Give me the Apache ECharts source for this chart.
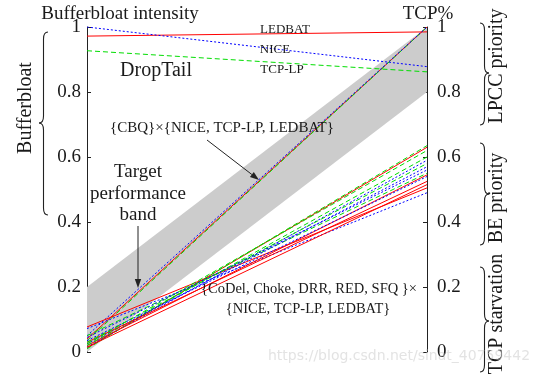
<!DOCTYPE html>
<html><head><meta charset="utf-8">
<script src="https://cdn.jsdelivr.net/npm/echarts@6/dist/echarts.min.js"></script>
<style>html,body{margin:0;padding:0;background:#fff}#c{width:537px;height:375px}</style>
</head><body><div id="c"></div>
<script>
const sides = ['left', 'right'];
const aqms = ['DropTail', 'CBQ', 'CoDel', 'Choke', 'DRR', 'RED', 'SFQ'];
const ledbatLeft  = [0.972, 0.040, 0.012, 0.077, 0.020, 0.030, 0.015];
const ledbatRight = [0.985, 1.000, 0.630, 0.505, 0.545, 0.525, 0.515];
const niceLeft    = [1.000, 0.050, 0.015, 0.072, 0.025, 0.035, 0.045];
const niceRight   = [0.878, 1.000, 0.590, 0.490, 0.570, 0.540, 0.560];
const tcplpLeft   = [0.927, 0.035, 0.010, 0.050, 0.020, 0.030, 0.025];
const tcplpRight  = [0.862, 1.000, 0.635, 0.550, 0.600, 0.580, 0.620];
const bandLow   = [0.0, 0.8];
const bandWidth = [0.2, 0.2];

const serif = 'Liberation Serif';
const series = [
  { type: 'line', data: bandLow, stack: 'band', symbol: 'none', lineStyle: { opacity: 0 }, silent: true, z: 1 },
  { type: 'line', data: bandWidth, stack: 'band', symbol: 'none', lineStyle: { opacity: 0 },
    areaStyle: { color: '#cccccc', opacity: 1 }, silent: true, z: 1 }
];
const protos = [
  { L: ledbatLeft, R: ledbatRight, color: '#ff0000', type: 'solid' },
  { L: tcplpLeft, R: tcplpRight, color: '#00dd00', type: [5, 3] },
  { L: niceLeft, R: niceRight, color: '#0000ff', type: [2, 2] }
];
aqms.forEach((a, i) => {
  protos.forEach(p => {
    series.push({ type: 'line', name: a, data: [p.L[i], p.R[i]], symbol: 'none', silent: true, z: 3,
      lineStyle: { color: p.color, width: 1, type: p.type } });
  });
});

function txt(x, y, s, size, rot) {
  const o = { type: 'text', x: x, y: y, z: 100,
    style: { text: s, font: size + 'px "' + serif + '"', fill: '#1a1a1a', align: 'center', verticalAlign: 'middle' } };
  if (rot !== undefined) o.rotation = rot;
  return o;
}
const bs = { stroke: '#222', lineWidth: 1.1, fill: null };
function q(x1, y1, cx, cy, x2, y2) {
  return { type: 'bezierCurve', z: 100, shape: { x1: x1, y1: y1, cpx1: cx, cpy1: cy, x2: x2, y2: y2 }, style: bs };
}
function ln(x1, y1, x2, y2) {
  return { type: 'line', z: 100, shape: { x1: x1, y1: y1, x2: x2, y2: y2 }, style: bs };
}
function brace(x, y0, y1, m, w, dir) {
  const xm = x + dir * w / 2, c = x + dir * w;
  return [
    q(x, y0, xm, y0, xm, y0 + 7),
    ln(xm, y0 + 7, xm, m - 7),
    q(xm, m - 7, xm, m, c, m),
    q(c, m, xm, m, xm, m + 7),
    ln(xm, m + 7, xm, y1 - 7),
    q(xm, y1 - 7, xm, y1, x, y1)
  ];
}
function arrow(x0, y0, x1, y1) {
  const ang = Math.atan2(y1 - y0, x1 - x0), L = 9, W = 3.2;
  const bx = x1 - L * Math.cos(ang), by = y1 - L * Math.sin(ang);
  const px = -Math.sin(ang) * W, py = Math.cos(ang) * W;
  return [
    { type: 'line', z: 100, shape: { x1: x0, y1: y0, x2: bx, y2: by }, style: { stroke: '#222', lineWidth: 1 } },
    { type: 'polygon', z: 100, shape: { points: [[x1, y1], [bx + px, by + py], [bx - px, by - py]] }, style: { fill: '#222' } }
  ];
}

const graphic = [
  txt(120, 14, 'Bufferbloat intensity', 19),
  txt(428, 14, 'TCP%', 19),
  txt(285, 30, 'LEDBAT', 13),
  txt(275, 50, 'NICE', 13),
  txt(282, 70, 'TCP-LP', 13),
  txt(156, 71, 'DropTail', 20),
  txt(222, 128, '{CBQ}×{NICE, TCP-LP, LEDBAT}', 15),
  txt(138, 172, 'Target', 19),
  txt(138, 194, 'performance', 19),
  txt(138, 215, 'band', 19),
  txt(309, 289, '{CoDel, Choke, DRR, RED, SFQ }×', 14.5),
  txt(308, 309, '{NICE, TCP-LP, LEDBAT}', 14.5),
  txt(26, 108, 'Bufferbloat', 20, Math.PI / 2),
  txt(497, 66, 'LPCC priority', 20, Math.PI / 2),
  txt(497, 198, 'BE priority', 20, Math.PI / 2),
  txt(497, 314, 'TCP starvation', 20, Math.PI / 2),
  ...brace(48, 32, 215, 123, 9, -1),
  ...brace(480, 23, 125, 73, 9, 1),
  ...brace(480, 143, 245, 194, 9, 1),
  ...brace(480, 267, 372, 321, 9, 1),
  ...arrow(138, 226, 138, 288),
  ...arrow(207, 140, 259, 180),
  { type: 'text', x: 399, y: 356, z: 200, style: { text: 'https://blog.csdn.net/sinat_40759442', font: '14px "DejaVu Sans"',
    fill: 'rgba(200,200,200,0.5)', align: 'center', verticalAlign: 'middle' } }
];

const yAxisCommon = {
  type: 'value', min: 0, max: 1, interval: 0.2,
  axisLine: { show: true, lineStyle: { color: '#222', width: 1 } },
  axisTick: { show: true, inside: true, length: 4, lineStyle: { color: '#222' } },
  splitLine: { show: false },
  axisLabel: { fontFamily: serif, fontSize: 19, color: '#1a1a1a', formatter: v => String(+v.toFixed(1)) }
};
const chart = echarts.init(document.getElementById('c'));
chart.setOption({
  animation: false,
  grid: { left: 87, right: 110, top: 27, bottom: 23 },
  xAxis: { type: 'category', data: sides, boundaryGap: false, show: false },
  yAxis: [
    Object.assign({}, yAxisCommon, { position: 'left', axisLabel: Object.assign({}, yAxisCommon.axisLabel, { margin: 6 }) }),
    Object.assign({}, yAxisCommon, { position: 'right', axisLabel: Object.assign({}, yAxisCommon.axisLabel, { margin: 10 }) })
  ],
  series: series,
  graphic: graphic
});
</script></body></html>
